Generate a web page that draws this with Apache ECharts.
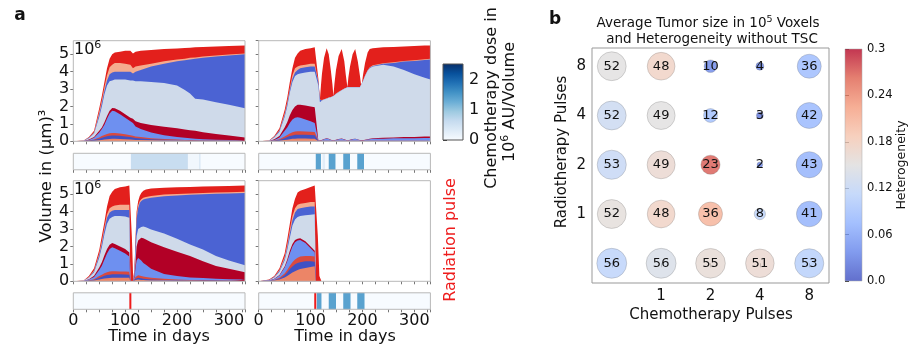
<!DOCTYPE html>
<html>
<head>
<meta charset="utf-8">
<script src="https://cdn.jsdelivr.net/npm/echarts@6/dist/echarts.min.js"></script>
<style>
html, body { margin: 0; padding: 0; background: #fff; }
#main { width: 911px; height: 345px; }
</style>
</head>
<body>
<div id="main"></div>
<script>
// ---- panel a: volume of each clone (cumulative top of each layer, 10^6 um^3) ----
const tlTime = [0, 20, 30, 40, 50, 55, 60, 65, 70, 75, 80, 90, 100, 110, 115, 120, 130, 150, 175, 200, 215, 225, 235, 250, 275, 300, 331];
const tlRed = [0, 0.05, 0.25, 0.6, 1.9, 2.6, 3.4, 4.2, 4.75, 5.0, 5.1, 5.15, 5.2, 5.2, 5.05, 5.15, 5.2, 5.25, 5.3, 5.33, 5.36, 5.38, 5.4, 5.42, 5.45, 5.47, 5.5];
const tlSalmon = [0, 0.04, 0.22, 0.52, 1.7, 2.35, 3.1, 3.8, 4.25, 4.4, 4.5, 4.5, 4.45, 4.4, 4.2, 4.3, 4.35, 4.45, 4.6, 4.7, 4.75, 4.8, 4.82, 4.87, 4.93, 4.98, 5.05];
const tlBlue = [0, 0.03, 0.2, 0.48, 1.55, 2.2, 2.9, 3.5, 3.85, 3.95, 4.0, 4.0, 4.0, 4.0, 3.9, 4.0, 4.1, 4.3, 4.45, 4.6, 4.65, 4.7, 4.75, 4.8, 4.87, 4.93, 5.0];
const tlGray = [0, 0.03, 0.18, 0.45, 1.4, 2.0, 2.7, 3.2, 3.45, 3.5, 3.55, 3.55, 3.55, 3.5, 3.5, 3.45, 3.45, 3.4, 3.35, 3.2, 2.95, 2.75, 2.45, 2.4, 2.25, 2.1, 1.9];
const tlDarkRed = [0, 0.02, 0.1, 0.25, 0.6, 0.8, 1.1, 1.45, 1.75, 1.92, 1.9, 1.75, 1.55, 1.35, 1.3, 1.15, 1.05, 0.93, 0.83, 0.75, 0.68, 0.64, 0.6, 0.52, 0.42, 0.33, 0.22];
const tlMedBlue = [0, 0.02, 0.08, 0.2, 0.5, 0.7, 0.95, 1.3, 1.6, 1.76, 1.72, 1.55, 1.35, 1.15, 1.05, 0.85, 0.7, 0.5, 0.35, 0.25, 0.2, 0.17, 0.14, 0.12, 0.09, 0.07, 0.05];
const tlSmallRed = [0, 0.01, 0.04, 0.1, 0.22, 0.3, 0.36, 0.42, 0.46, 0.48, 0.48, 0.45, 0.4, 0.35, 0.32, 0.28, 0.24, 0.18, 0.13, 0.1, 0.08, 0.07, 0.06, 0.05, 0.05, 0.04, 0.04];
const tlSmallBlue = [0, 0.01, 0.03, 0.07, 0.15, 0.2, 0.25, 0.29, 0.32, 0.34, 0.34, 0.32, 0.28, 0.24, 0.22, 0.19, 0.16, 0.12, 0.09, 0.07, 0.06, 0.05, 0.05, 0.04, 0.04, 0.03, 0.03];
const tlSmallSalmon = [0, 0, 0.01, 0.03, 0.06, 0.08, 0.1, 0.12, 0.13, 0.14, 0.14, 0.13, 0.12, 0.1, 0.09, 0.08, 0.07, 0.06, 0.05, 0.04, 0.04, 0.03, 0.03, 0.03, 0.03, 0.02, 0.02];

const trTime = [0, 20, 30, 40, 50, 55, 60, 65, 70, 75, 80, 90, 100, 108, 111,
  115, 118, 120, 122, 126, 131, 135, 139, 142, 144, 146, 149, 154, 160, 165, 168, 171, 173, 176, 181,
  186, 191, 195, 198, 201, 205, 210, 214, 220, 240, 260, 280, 300, 320, 331];
const trRed = [0, 0.05, 0.3, 0.75, 1.8, 2.5, 3.4, 4.2, 4.8, 5.05, 5.2, 5.3, 5.35, 5.4, 5.4,
  3.6, 2.4, 3.2, 3.9, 4.8, 5.35, 5.0, 4.1, 3.3, 2.6, 3.3, 4.1, 4.9, 5.3, 4.6, 3.8, 3.1, 3.7, 4.3, 5.0,
  5.3, 4.6, 3.8, 3.1, 3.8, 4.5, 5.1, 5.3, 5.35, 5.4, 5.42, 5.45, 5.47, 5.5, 5.5];
const trSalmon = [0, 0.04, 0.26, 0.63, 1.6, 2.25, 3.05, 3.8, 4.2, 4.3, 4.35, 4.4, 4.45, 4.45, 4.45,
  3.45, 2.4, 2.4, 2.37, 2.42, 2.47, 2.52, 2.55, 2.59, 2.6, 2.67, 2.74, 2.84, 2.95, 3.04, 3.09, 3.1, 3.12, 3.12, 3.12,
  3.12, 3.12, 3.11, 3.1, 3.48, 3.78, 4.08, 4.26, 4.37, 4.49, 4.54, 4.62, 4.66, 4.71, 4.74];
const trBlue = [0, 0.03, 0.24, 0.6, 1.5, 2.15, 2.95, 3.6, 3.95, 4.1, 4.2, 4.25, 4.3, 4.3, 4.3,
  3.4, 2.4, 2.35, 2.35, 2.4, 2.45, 2.5, 2.53, 2.57, 2.6, 2.65, 2.72, 2.82, 2.93, 3.02, 3.07, 3.1, 3.1, 3.1, 3.1,
  3.1, 3.1, 3.1, 3.1, 3.45, 3.75, 4.05, 4.22, 4.33, 4.45, 4.5, 4.58, 4.62, 4.67, 4.7];
const trGray = [0, 0.03, 0.22, 0.55, 1.4, 2.0, 2.8, 3.4, 3.75, 3.85, 3.9, 3.95, 4.0, 4.0, 4.0,
  3.2, 2.25, 2.3, 2.35, 2.4, 2.45, 2.5, 2.53, 2.57, 2.6, 2.65, 2.72, 2.82, 2.93, 3.02, 3.07, 3.1, 3.1, 3.1, 3.1,
  3.1, 3.1, 3.1, 3.1, 3.45, 3.75, 4.05, 4.2, 4.3, 4.4, 4.3, 4.1, 3.85, 3.65, 3.55];
const trDarkRed = [0, 0.02, 0.12, 0.3, 0.8, 1.1, 1.5, 1.8, 2.0, 2.1, 2.1, 2.05, 2.0, 1.95, 1.9,
  0.05, 0.05, 0.06, 0.08, 0.13, 0.17, 0.14, 0.09, 0.06, 0.05, 0.06, 0.09, 0.13, 0.16, 0.12, 0.07, 0.05, 0.06, 0.09, 0.13,
  0.15, 0.11, 0.07, 0.05, 0.06, 0.09, 0.12, 0.15, 0.18, 0.2, 0.22, 0.24, 0.25, 0.27, 0.27];
const trMedBlue = [0, 0.02, 0.08, 0.22, 0.6, 0.8, 1.05, 1.25, 1.35, 1.38, 1.35, 1.25, 1.15, 1.05, 1.0,
  0.04, 0.04, 0.05, 0.07, 0.12, 0.16, 0.13, 0.08, 0.05, 0.04, 0.05, 0.08, 0.12, 0.15, 0.11, 0.06, 0.04, 0.05, 0.08, 0.12,
  0.14, 0.1, 0.06, 0.04, 0.05, 0.07, 0.1, 0.12, 0.14, 0.15, 0.17, 0.18, 0.18, 0.19, 0.19];
const trSmallRed = [0, 0.01, 0.05, 0.12, 0.28, 0.36, 0.45, 0.52, 0.56, 0.58, 0.58, 0.57, 0.55, 0.53, 0.5,
  0.03, 0.03, 0.03, 0.03, 0.03, 0.03, 0.03, 0.03, 0.03, 0.03, 0.03, 0.03, 0.03, 0.03, 0.03, 0.03, 0.03, 0.03, 0.03, 0.03,
  0.03, 0.03, 0.03, 0.03, 0.03, 0.03, 0.03, 0.03, 0.03, 0.03, 0.03, 0.03, 0.03, 0.03, 0.03];
const trSmallBlue = [0, 0.01, 0.03, 0.08, 0.18, 0.24, 0.3, 0.34, 0.37, 0.38, 0.38, 0.37, 0.36, 0.35, 0.33,
  0.02, 0.02, 0.02, 0.02, 0.02, 0.02, 0.02, 0.02, 0.02, 0.02, 0.02, 0.02, 0.02, 0.02, 0.02, 0.02, 0.02, 0.02, 0.02, 0.02,
  0.02, 0.02, 0.02, 0.02, 0.02, 0.02, 0.02, 0.02, 0.02, 0.02, 0.02, 0.02, 0.02, 0.02, 0.02];
const trSmallSalmon = [0, 0, 0.01, 0.03, 0.07, 0.09, 0.12, 0.14, 0.15, 0.16, 0.16, 0.16, 0.15, 0.15, 0.14,
  0.01, 0.01, 0.01, 0.01, 0.01, 0.01, 0.01, 0.01, 0.01, 0.01, 0.01, 0.01, 0.01, 0.01, 0.01, 0.01, 0.01, 0.01, 0.01, 0.01,
  0.01, 0.01, 0.01, 0.01, 0.01, 0.01, 0.01, 0.01, 0.01, 0.01, 0.01, 0.01, 0.01, 0.01, 0.01];

const blTime = [0, 20, 30, 40, 50, 55, 60, 65, 70, 75, 80, 90, 100, 108, 109.5, 110, 111, 113, 115.5, 118, 120, 122, 125, 128, 131, 135, 140, 150, 175, 200, 225, 250, 275, 300, 331];
const blRed = [0, 0.05, 0.3, 0.75, 1.8, 2.6, 3.4, 4.3, 4.9, 5.15, 5.3, 5.4, 5.45, 5.5, 5.5, 5.5, 5.5, 2.5, 0.1, 0.8, 2.5, 4.0, 4.6, 4.9, 5.07, 5.2, 5.27, 5.33, 5.38, 5.4, 5.42, 5.44, 5.46, 5.48, 5.5];
const blSalmon = [0, 0.04, 0.25, 0.62, 1.6, 2.3, 3.1, 3.85, 4.2, 4.3, 4.35, 4.4, 4.4, 4.4, 4.4, 0, 0, 0, 0, 0.7, 2.3, 3.8, 4.35, 4.6, 4.72, 4.8, 4.85, 4.9, 4.98, 5.02, 5.05, 5.08, 5.1, 5.12, 5.15];
const blBlue = [0, 0.03, 0.22, 0.58, 1.5, 2.15, 2.95, 3.65, 3.95, 4.05, 4.1, 4.1, 4.1, 4.1, 4.1, 0, 0, 0, 0, 0.65, 2.2, 3.6, 4.2, 4.5, 4.62, 4.7, 4.75, 4.8, 4.88, 4.93, 4.97, 5.0, 5.03, 5.05, 5.08];
const blGray = [0, 0.03, 0.2, 0.52, 1.35, 1.95, 2.7, 3.3, 3.6, 3.7, 3.75, 3.75, 3.72, 3.65, 3.65, 0, 0, 0, 0, 0.45, 1.6, 2.6, 3.0, 3.08, 3.12, 3.15, 3.1, 2.97, 2.75, 2.45, 2.12, 1.82, 1.45, 1.2, 0.92];
const blDarkRed = [0, 0.02, 0.12, 0.32, 0.8, 1.1, 1.5, 1.85, 2.1, 2.2, 2.15, 2.0, 1.85, 1.65, 1.63, 0, 0, 0, 0, 0.35, 1.1, 2.0, 2.35, 2.45, 2.5, 2.48, 2.4, 2.25, 1.95, 1.7, 1.45, 1.15, 0.88, 0.72, 0.52];
const blMedBlue = [0, 0.02, 0.1, 0.25, 0.65, 0.9, 1.25, 1.6, 1.85, 1.95, 1.9, 1.75, 1.6, 1.42, 1.4, 0, 0, 0, 0, 0.25, 0.8, 1.2, 1.34, 1.3, 1.2, 1.05, 0.95, 0.72, 0.42, 0.3, 0.22, 0.19, 0.15, 0.12, 0.1];
const blSmallRed = [0, 0.01, 0.05, 0.12, 0.3, 0.38, 0.46, 0.52, 0.56, 0.58, 0.58, 0.57, 0.56, 0.55, 0.55, 0, 0, 0, 0, 0.1, 0.25, 0.35, 0.35, 0.32, 0.3, 0.27, 0.24, 0.2, 0.14, 0.1, 0.08, 0.07, 0.06, 0.05, 0.05];
const blSmallBlue = [0, 0.01, 0.03, 0.08, 0.2, 0.26, 0.32, 0.36, 0.38, 0.4, 0.4, 0.4, 0.39, 0.38, 0.38, 0, 0, 0, 0, 0.06, 0.15, 0.2, 0.2, 0.18, 0.17, 0.15, 0.13, 0.11, 0.08, 0.06, 0.05, 0.04, 0.04, 0.03, 0.03];
const blSmallSalmon = [0, 0, 0.02, 0.04, 0.1, 0.13, 0.16, 0.18, 0.19, 0.2, 0.2, 0.2, 0.2, 0.2, 0.2, 0, 0, 0, 0, 0.03, 0.07, 0.1, 0.1, 0.09, 0.08, 0.07, 0.06, 0.05, 0.04, 0.03, 0.03, 0.02, 0.02, 0.02, 0.02];

const brTime = [0, 20, 30, 40, 50, 55, 60, 65, 70, 75, 80, 90, 100, 108, 109.5, 110, 114, 117, 121, 331];
const brRed = [0, 0.1, 0.3, 0.75, 1.6, 2.4, 3.3, 4.2, 4.75, 5.1, 5.2, 5.3, 5.42, 5.5, 5.55, 5.55, 2.6, 0.3, 0, 0];
const brSalmon = [0, 0.08, 0.26, 0.65, 1.4, 2.1, 2.95, 3.75, 4.2, 4.4, 4.45, 4.5, 4.55, 4.55, 4.55, 0, 0, 0, 0, 0];
const brBlue = [0, 0.07, 0.24, 0.6, 1.3, 1.95, 2.75, 3.5, 3.95, 4.15, 4.2, 4.25, 4.3, 4.3, 4.3, 0, 0, 0, 0, 0];
const brGray = [0, 0.06, 0.22, 0.55, 1.2, 1.8, 2.5, 3.2, 3.55, 3.7, 3.75, 3.8, 3.83, 3.85, 3.85, 0, 0, 0, 0, 0];
const brDarkRed = [0, 0.04, 0.14, 0.36, 0.85, 1.25, 1.75, 2.15, 2.38, 2.45, 2.48, 2.3, 2.0, 1.75, 1.72, 0, 0, 0, 0, 0];
const brMedBlue = [0, 0.04, 0.13, 0.33, 0.8, 1.15, 1.6, 2.0, 2.25, 2.35, 2.38, 2.2, 1.9, 1.65, 1.62, 0, 0, 0, 0, 0];
const brSmallRed = [0, 0.02, 0.08, 0.2, 0.45, 0.65, 0.9, 1.1, 1.25, 1.35, 1.42, 1.45, 1.45, 1.43, 1.43, 0, 0, 0, 0, 0];
const brSmallBlue = [0, 0.02, 0.06, 0.15, 0.35, 0.5, 0.7, 0.85, 0.98, 1.05, 1.1, 1.15, 1.15, 1.13, 1.13, 0, 0, 0, 0, 0];
const brSmallSalmon = [0, 0.01, 0.04, 0.1, 0.22, 0.3, 0.4, 0.5, 0.58, 0.65, 0.7, 0.77, 0.82, 0.86, 0.86, 0, 0, 0, 0, 0];

// chemotherapy dose intervals [start day, end day, dose 10^6 AU/Volume] and radiation days
const chemoTL = [[111, 221, 0.6], [221, 243, 0.08], [243, 245, 0.5]];
const chemoTR = [[110, 120, 1.4], [123, 128, 0.25], [135, 148, 1.4], [163, 176, 1.4], [190, 203, 1.4]];
const chemoBL = [];
const chemoBR = [[112, 121, 1.4], [135, 149, 1.4], [163, 177, 1.4], [190, 204, 1.4]];
const radTL = [];
const radTR = [];
const radBL = [110];
const radBR = [109];

const timeTicks = [0, 100, 200, 300];
const doseTicks = [0, 1, 2];

// ---- panel b: tumour size (10^5 voxels) and heterogeneity ----
const chemoPulses = ['', '1', '2', '4', '8'];
const radioPulses = ['', '1', '2', '4', '8'];
// rows from bottom (no radiotherapy) to top (8 pulses)
const tumorSize = [
  [56, 56, 55, 51, 53],
  [52, 48, 36, 8, 41],
  [53, 49, 23, 2, 43],
  [52, 49, 12, 3, 42],
  [52, 48, 10, 4, 36]
];
const heterogeneity = [
  [0.11, 0.14, 0.16, 0.165, 0.105],
  [0.155, 0.175, 0.21, 0.11, 0.07],
  [0.12, 0.165, 0.27, 0.03, 0.07],
  [0.125, 0.15, 0.085, 0.02, 0.075],
  [0.15, 0.175, 0.035, 0.03, 0.08]
];
const hetTicks = [0, 0.06, 0.12, 0.18, 0.24, 0.3];
const hetTickLabels = ['0.0', '0.06', '0.12', '0.18', '0.24', '0.3'];

const FONT = 'DejaVu Sans';
const TMAX = 331, VMAX = 5.78, DOSEMAX = 2.53;
const layerColors = ['#e3201c', '#f5ab8e', '#4b63d3', '#cfdaea', '#b20026', '#6e90f0', '#d94a3f', '#3f51c4', '#ec8567'];
const blues = ['#f7fbff', '#deebf7', '#c6dbef', '#9ecae1', '#6baed6', '#4292c6', '#2171b5', '#08519c', '#08306b'];
const coolwarm = ['#3b4cc0', '#6282ea', '#8db0fe', '#b8d0f9', '#dddcdc', '#f5c4ad', '#f49a7b', '#de604d', '#b40426'];

function hex(c) {
  return [1, 3, 5].map(i => parseInt(c.substr(i, 2), 16));
}
function mix(stops, f) {
  f = Math.max(0, Math.min(1, f));
  const n = stops.length - 1;
  const i = Math.min(Math.floor(f * n), n - 1);
  const t = f * n - i;
  const a = hex(stops[i]), b = hex(stops[i + 1]);
  return 'rgb(' + [0, 1, 2].map(k => Math.round(a[k] + (b[k] - a[k]) * t)).join(',') + ')';
}
function doseColor(d) { return mix(blues, d / DOSEMAX); }

function doseRect(params, api) {
  const a = api.coord([api.value(0), 0]);
  const b = api.coord([api.value(1), 1]);
  return {
    type: 'rect',
    shape: { x: a[0], y: b[1], width: Math.max(b[0] - a[0], 1), height: a[1] - b[1] },
    style: { fill: doseColor(api.value(2)) }
  };
}
function radLine(params, api) {
  const a = api.coord([api.value(0), 0]);
  const b = api.coord([api.value(0), 1]);
  return { type: 'line', shape: { x1: a[0], y1: a[1], x2: b[0], y2: b[1] }, style: { stroke: '#ee1c1c', lineWidth: 2 } };
}
function gradientBar(stops, opacity) {
  return function (params, api) {
    const a = api.coord([0, api.value(0)]);
    const b = api.coord([1, api.value(1)]);
    return {
      type: 'rect',
      shape: { x: a[0], y: b[1], width: b[0] - a[0], height: a[1] - b[1] },
      style: {
        opacity: opacity,
        fill: new echarts.graphic.LinearGradient(0, 1, 0, 0,
          stops.map((c, i) => ({ offset: i / (stops.length - 1), color: c })))
      }
    };
  };
}

const panels = [
  { time: tlTime, layers: [tlRed, tlSalmon, tlBlue, tlGray, tlDarkRed, tlMedBlue, tlSmallRed, tlSmallBlue, tlSmallSalmon],
    chemo: chemoTL, rad: radTL, x: 73.3, y: 40.7, stripY: 153.3, showY: true, showX: false },
  { time: trTime, layers: [trRed, trSalmon, trBlue, trGray, trDarkRed, trMedBlue, trSmallRed, trSmallBlue, trSmallSalmon],
    chemo: chemoTR, rad: radTR, x: 258.7, y: 40.7, stripY: 153.3, showY: false, showX: false },
  { time: blTime, layers: [blRed, blSalmon, blBlue, blGray, blDarkRed, blMedBlue, blSmallRed, blSmallBlue, blSmallSalmon],
    chemo: chemoBL, rad: radBL, x: 73.3, y: 180.7, stripY: 292.8, showY: true, showX: true },
  { time: brTime, layers: [brRed, brSalmon, brBlue, brGray, brDarkRed, brMedBlue, brSmallRed, brSmallBlue, brSmallSalmon],
    chemo: chemoBR, rad: radBR, x: 258.7, y: 180.7, stripY: 292.8, showY: false, showX: true }
];

const frame = '#b8b8b8';
const tickStyle = { show: true, length: 3, lineStyle: { color: '#777', width: 1 } };
const grid = [], xAxis = [], yAxis = [], series = [];

panels.forEach(p => {
  grid.push({ left: p.x, top: p.y, width: 171.7, height: 100.6, show: true, borderColor: frame, borderWidth: 1,
    backgroundColor: 'transparent', z: 5, containLabel: false, outerBoundsMode: 'none' });
  let gi = grid.length - 1;
  xAxis.push({ gridIndex: gi, type: 'value', min: 0, max: TMAX, interval: 25, axisLine: { show: false },
    axisTick: tickStyle, axisLabel: { show: false }, splitLine: { show: false } });
  yAxis.push({ gridIndex: gi, type: 'value', min: 0, max: VMAX, interval: 1, axisLine: { show: false },
    axisTick: tickStyle, splitLine: { show: false },
    axisLabel: { show: p.showY, fontSize: 16, color: '#111', fontFamily: FONT, margin: 4 } });
  p.layers.forEach((vals, j) => {
    series.push({ type: 'line', xAxisIndex: gi, yAxisIndex: gi, data: p.time.map((t, i) => [t, vals[i]]),
      symbol: 'none', showSymbol: false, lineStyle: { width: 0 }, areaStyle: { color: layerColors[j], opacity: 1 },
      silent: true, z: 2 });
  });

  grid.push({ left: p.x, top: p.stripY, width: 171.7, height: 16.5, show: true, borderColor: frame, borderWidth: 1,
    backgroundColor: 'transparent', z: 5, containLabel: false, outerBoundsMode: 'none' });
  gi = grid.length - 1;
  xAxis.push({ gridIndex: gi, type: 'value', min: 0, max: TMAX, interval: 25, axisLine: { show: false },
    axisTick: tickStyle, splitLine: { show: false },
    axisLabel: { show: p.showX, fontSize: 16, color: '#111', fontFamily: FONT, margin: 4,
      formatter: v => timeTicks.indexOf(v) >= 0 ? String(v) : '' } });
  yAxis.push({ gridIndex: gi, type: 'value', min: 0, max: 1, show: false });
  series.push({ type: 'custom', xAxisIndex: gi, yAxisIndex: gi, data: [[0, TMAX, 0]].concat(p.chemo),
    renderItem: doseRect, silent: true, z: 2 });
  if (p.rad.length) {
    series.push({ type: 'custom', xAxisIndex: gi, yAxisIndex: gi, data: p.rad.map(t => [t]),
      renderItem: radLine, silent: true, z: 3 });
  }
});

// chemotherapy dose colorbar
grid.push({ left: 443, top: 64, width: 20, height: 76, show: true, borderColor: '#555', borderWidth: 1,
  backgroundColor: 'transparent', z: 5, containLabel: false, outerBoundsMode: 'none' });
let cg = grid.length - 1;
xAxis.push({ gridIndex: cg, type: 'value', min: 0, max: 1, show: false });
yAxis.push({ gridIndex: cg, type: 'value', position: 'right', min: 0, max: DOSEMAX, axisLine: { show: false },
  axisTick: { show: true, length: 4, lineStyle: { color: '#333' }, customValues: doseTicks },
  axisLabel: { fontSize: 16, color: '#111', fontFamily: FONT, margin: 6, customValues: doseTicks },
  splitLine: { show: false } });
series.push({ type: 'custom', xAxisIndex: cg, yAxisIndex: cg, data: [[0, DOSEMAX]],
  renderItem: gradientBar(blues, 1), silent: true, z: 2 });

// panel b bubble grid
grid.push({ left: 592, top: 48, width: 237, height: 235, show: true, borderColor: '#999', borderWidth: 1,
  backgroundColor: 'transparent', z: 5, containLabel: false, outerBoundsMode: 'none' });
const bg = grid.length - 1;
const idx5 = [0, 1, 2, 3, 4];
xAxis.push({ gridIndex: bg, type: 'value', min: -0.4, max: 4.4, axisLine: { show: false }, splitLine: { show: false },
  axisTick: { show: true, length: 4, lineStyle: { color: '#666' }, customValues: idx5 },
  axisLabel: { fontSize: 15, color: '#111', fontFamily: FONT, margin: 6, customValues: idx5,
    formatter: v => chemoPulses[Math.round(v)] } });
yAxis.push({ gridIndex: bg, type: 'value', min: -0.4, max: 4.37, axisLine: { show: false }, splitLine: { show: false },
  axisTick: { show: true, length: 4, lineStyle: { color: '#666' }, customValues: idx5 },
  axisLabel: { fontSize: 15, color: '#111', fontFamily: FONT, margin: 6, customValues: idx5,
    formatter: v => radioPulses[Math.round(v)] } });
const bubbleData = [];
tumorSize.forEach((row, r) => row.forEach((v, c) => bubbleData.push([c, r, v, heterogeneity[r][c]])));
const bubbleIndex = series.length;
series.push({ type: 'scatter', xAxisIndex: bg, yAxisIndex: bg, data: bubbleData,
  symbolSize: d => 4.0 * Math.sqrt(d[2]),
  itemStyle: { opacity: 0.75, borderColor: 'rgba(110,110,110,0.45)', borderWidth: 0.8 },
  label: { show: true, position: 'inside', formatter: p => String(p.data[2]), color: '#111', opacity: 1,
    fontSize: 13, fontFamily: FONT },
  silent: true, z: 3 });

// heterogeneity colorbar
grid.push({ left: 845, top: 49, width: 17, height: 232, show: true, borderColor: '#aaa', borderWidth: 0.5,
  backgroundColor: 'transparent', z: 5, containLabel: false, outerBoundsMode: 'none' });
const hg = grid.length - 1;
xAxis.push({ gridIndex: hg, type: 'value', min: 0, max: 1, show: false });
yAxis.push({ gridIndex: hg, type: 'value', position: 'right', min: 0, max: 0.3, axisLine: { show: false },
  splitLine: { show: false },
  axisTick: { show: true, length: 4, lineStyle: { color: '#333' }, customValues: hetTicks },
  axisLabel: { fontSize: 11.5, color: '#111', fontFamily: FONT, margin: 5, customValues: hetTicks,
    formatter: v => hetTickLabels[Math.round(v / 0.06)] } });
series.push({ type: 'custom', xAxisIndex: hg, yAxisIndex: hg, data: [[0, 0.3]],
  renderItem: gradientBar(coolwarm, 0.8), silent: true, z: 2 });

function txt(x, y, text, size, opts) {
  opts = opts || {};
  return { type: 'text', x: x, y: y, rotation: opts.rot || 0, z: 20, silent: true,
    style: { text: text, fontSize: size, fontFamily: FONT, fontWeight: opts.bold ? 'bold' : 'normal',
      fill: opts.color || '#111', textAlign: opts.align || 'center', textVerticalAlign: 'middle',
      align: opts.align || 'center', verticalAlign: 'middle', rich: opts.rich } };
}
const supRich = (big, small) => ({ n: { fontSize: big, fontFamily: FONT, fill: '#111', lineHeight: big + 4 },
  s: { fontSize: small, fontFamily: FONT, fill: '#111', verticalAlign: 'top', lineHeight: big + 4 } });
const R90 = Math.PI / 2;

const graphic = [
  txt(20, 16, 'a', 17, { bold: true }),
  txt(555, 20, 'b', 17, { bold: true }),
  txt(74, 50, '{n|10}{s|6}', 16, { align: 'left', rich: supRich(16, 11) }),
  txt(74, 190, '{n|10}{s|6}', 16, { align: 'left', rich: supRich(16, 11) }),
  txt(47, 176, 'Volume in (\u03bcm)\u00b3', 16.5, { rot: R90 }),
  txt(451, 240, 'Radiation pulse', 16, { rot: R90, color: '#ee1c1c' }),
  txt(492, 98, 'Chemotherapy dose in', 16, { rot: R90 }),
  txt(510, 102, '{n|10}{s|6}{n| AU/Volume}', 16, { rot: R90, rich: supRich(16, 11) }),
  txt(159, 337, 'Time in days', 16),
  txt(345, 337, 'Time in days', 16),
  txt(708, 23, '{n|Average Tumor size in 10}{s|5}{n| Voxels}', 13.5, { rich: supRich(13.5, 9.5) }),
  txt(712, 39, 'and Heterogeneity without TSC', 13.5),
  txt(711, 315, 'Chemotherapy Pulses', 15),
  txt(562, 152, 'Radiotherapy Pulses', 15, { rot: R90 }),
  txt(902, 165, 'Heterogeneity', 12.5, { rot: R90 })
];

const chart = echarts.init(document.getElementById('main'), null, { renderer: 'canvas' });
chart.setOption({
  animation: false,
  backgroundColor: '#fff',
  textStyle: { fontFamily: FONT },
  grid: grid,
  xAxis: xAxis,
  yAxis: yAxis,
  visualMap: [{ type: 'continuous', show: false, seriesIndex: bubbleIndex, dimension: 3, min: 0, max: 0.3,
    inRange: { color: coolwarm } }],
  series: series,
  graphic: graphic
});
</script>
</body>
</html>
